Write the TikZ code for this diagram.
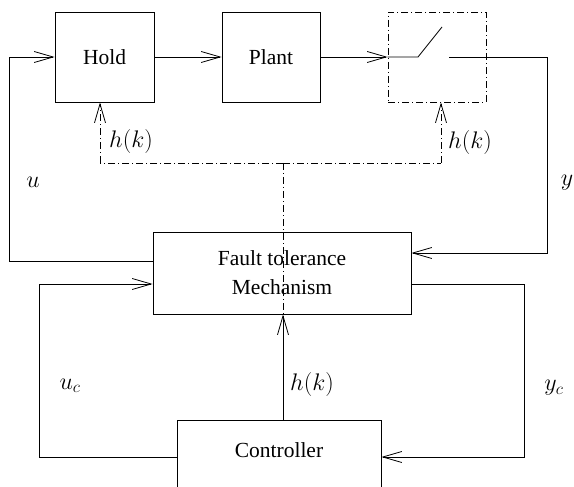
\RequirePackage{fix-cm}
\documentclass[tikz,border=0pt]{standalone}
\usepackage{fontspec}
\setmainfont{Liberation Serif}
\usetikzlibrary{arrows.meta,calc}
\begin{document}
\begin{tikzpicture}[x=1pt,y=-1pt,
  every node/.style={font=\fontsize{21.5}{29}\selectfont},
  mlab/.style={font=\fontsize{24}{29}\selectfont},
  lw/.style={line width=0.8pt},
  blk/.style={draw,lw,rectangle,inner sep=0pt},
  arr/.style={lw,-{Straight Barb[length=19pt,width=11pt,line width=0.8pt]}},
  dd/.style={lw,dash pattern=on 7pt off 3pt on 1pt off 3pt}]
\useasboundingbox (0,0) rectangle (574,487);
% blocks
\node[blk,minimum width=99pt,minimum height=90pt] (hold) at (104.5,57) {Hold};
\node[blk,minimum width=98pt,minimum height=90pt] (plant) at (271,57) {Plant};
\node[blk,dd,minimum width=98pt,minimum height=90pt] (sw) at (437,57) {};
\node[blk,minimum width=258pt,minimum height=82pt,align=center] (ft) at (282,273) {Fault tolerance\\Mechanism};
\node[blk,minimum width=204pt,minimum height=80pt,text depth=20pt] (ctrl) at (279,460) {Controller};
% helper coordinates
\coordinate (swa) at (418,57);
\coordinate (swb) at (442,27);
\coordinate (swc) at (449,57);
\coordinate (hx) at (283,163);
\coordinate (hl) at (100,163);
\coordinate (hr) at (441,163);
% forward path
\draw[arr] (hold) -- (plant);
\draw[arr] (plant) -- (sw.west);
\draw[lw] (sw.west) -- (swa) -- (swb);
\draw[arr] (swc) -- ++(98,0) |- ([yshift=20pt]ft.east);
\draw[arr] ([yshift=12pt]ft.west) -- ++(-143,0) |- (hold.west);
\draw[arr] ([yshift=3pt]ctrl.west) -- ++(-137,0) |- ([yshift=-11pt]ft.west);
\draw[arr] ([yshift=-11pt]ft.east) -- ++(113,0) |- ([yshift=3pt]ctrl.east);
\draw[arr] (ctrl.north -| hx) -- (ft.south -| hx);
% dash-dot lines
\draw[dd] (hx) -- (ft.south -| hx);
\draw[dd] (hx) -- (hl);
\draw[dd] (hx) -- (hr);
\draw[dd,arr] (hl) -- (hold.south -| hl);
\draw[dd,arr] (hr) -- (sw.south -| hr);
% labels
\node[mlab] (lh1) at (131,142) {$h(k)$};
\node[mlab] (lh2) at (470,143) {$h(k)$};
\node[mlab] (lh3) at (312,385) {$h(k)$};
\node[mlab] (lu) at (33,182) {$u$};
\node[mlab] (ly) at (567,183) {$y$};
\node[mlab] (luc) at (70,386) {$u_c$};
\node[mlab] (lyc) at (554,388) {$y_c$};
\end{tikzpicture}
\end{document}
